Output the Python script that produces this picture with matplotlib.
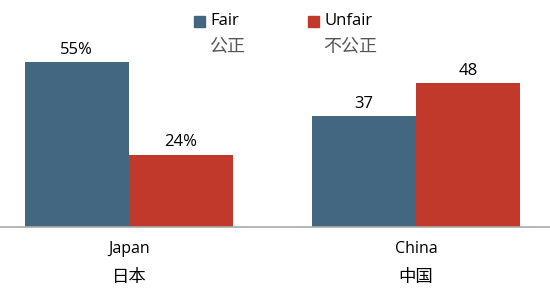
import matplotlib.pyplot as plt
import numpy as np

plt.rcParams['font.family'] = ['Open Sans', 'Noto Sans CJK SC', 'DejaVu Sans']

countries = ['Japan', 'China']
countries_cn = ['日本', '中国']
fair = [55, 37]
unfair = [24, 48]
fair_labels = ['55%', '37']
unfair_labels = ['24%', '48']
series = ['Fair', 'Unfair']
series_cn = ['公正', '不公正']

blue = '#436781'
red = '#C0392A'

fig = plt.figure(figsize=(5.5, 2.97), dpi=100)
ax = fig.add_axes([0, 70 / 297, 1, 227 / 297])

x = np.arange(len(countries))
w = 0.3625
b1 = ax.bar(x - w / 2, fair, w, color=blue)
b2 = ax.bar(x + w / 2, unfair, w, color=red)

for bars, labs in [(b1, fair_labels), (b2, unfair_labels)]:
    for bar, lab in zip(bars, labs):
        ax.text(bar.get_x() + bar.get_width() / 2, bar.get_height() + 1.5, lab,
                ha='center', va='bottom', fontsize=12)

ax.set_xlim(-0.449, 1.467)
ax.set_ylim(0, 227 / 3)
for s in ['top', 'right', 'left']:
    ax.spines[s].set_visible(False)
ax.spines['bottom'].set_color('#aaaaaa')
ax.spines['bottom'].set_linewidth(1.2)
ax.set_yticks([])
ax.set_xticks([])

for xi, name, cn in zip(x, countries, countries_cn):
    ax.annotate(name, (xi, 0), xytext=(0, -16), textcoords='offset points',
                ha='center', va='center', fontsize=11.5)
    ax.annotate(cn, (xi, 0), xytext=(0, -37), textcoords='offset points',
                ha='center', va='center', fontsize=12.5)

# legend drawn by hand in figure pixels
leg_x = [194, 308]
for lx, name, cn, c in zip(leg_x, series, series_cn, [blue, red]):
    fig.patches.append(plt.Rectangle((lx / 550, 1 - 27 / 297), 11 / 550, 11 / 297,
                                     transform=fig.transFigure, color=c))
    fig.text((lx + 16) / 550, 1 - 21 / 297, name, fontsize=12, va='center')
    fig.text((lx + 15) / 550, 1 - 47 / 297, cn, fontsize=13, va='center', color='#555555')

fig.savefig('out.png', dpi=100)
